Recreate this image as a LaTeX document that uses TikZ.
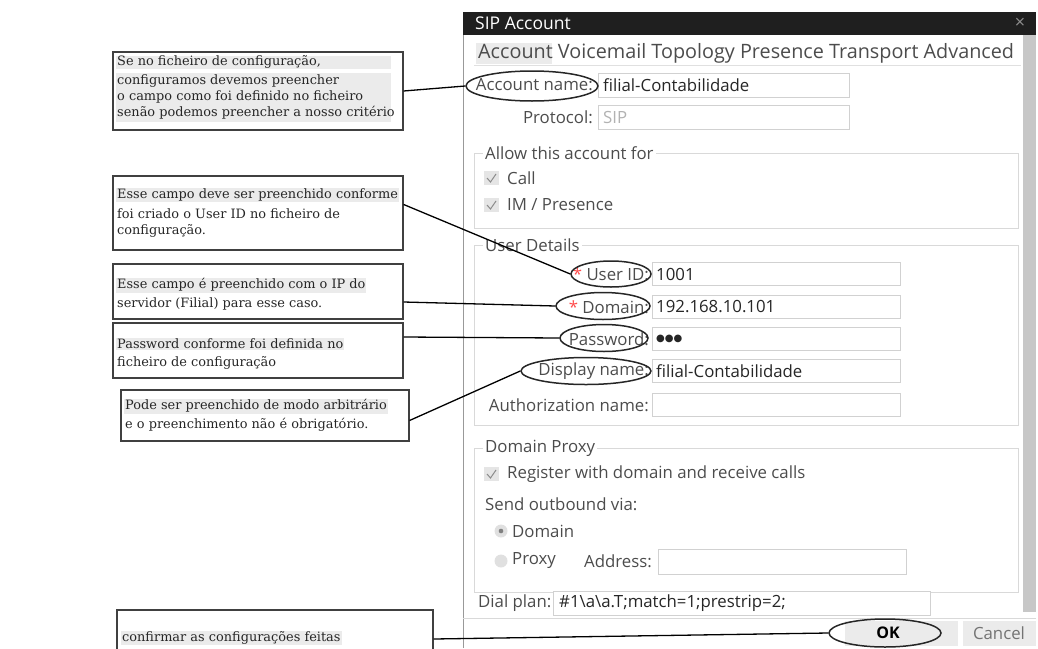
\documentclass[tikz,border=0pt]{standalone}
\usepackage{fontspec}
\usetikzlibrary{shapes.geometric}
\newfontfamily\uifont{Open Sans}
\newfontfamily\notefont{DejaVu Serif}
\newfontfamily\symfont{DejaVu Sans}
\tikzset{
  note/.style={draw=black!75, line width=1.1pt, inner sep=0pt},
  noteline/.style={anchor=west, font=\notefont\fontsize{12.9}{14}\selectfont, text=black!85, inner sep=1pt},
  hilite/.style={fill=black!8},
  ring/.style={ellipse, draw=black!85, line width=1.5pt, inner sep=0pt},
  link/.style={line width=1.3pt},
  uitext/.style={font=\uifont\fontsize{16.8}{18}\selectfont, text=black!70, inner sep=0pt},
  field/.style={draw=black!18, fill=white},
  group/.style={draw=black!15},
  tick/.style={black!45, line width=1pt},
}
\begin{document}
\begin{tikzpicture}[x=1pt,y=-1pt]
\useasboundingbox (0,0) rectangle (1038,648);
\clip (0,0) rectangle (1038,648);

% dialog window
\fill[black!88] (463,12) rectangle (1036,35);
\node[uitext, anchor=west, text=white, font=\uifont\fontsize{17.5}{18}\selectfont] (title) at (475,23.5) {SIP Account};
\node[uitext, text=black!45, font=\uifont\fontsize{18}{18}\selectfont] (close) at (1020,23.5) {×};
\draw[black!40] (463,35) -- (463,648);
\fill[black!22] (1023,35) rectangle (1036,612);

% tabs
\fill[black!8] (476,43) rectangle (552,64);
\node[uitext, anchor=west, font=\uifont\fontsize{19.8}{20}\selectfont] (tabs) at (478,53.5) {Account Voicemail Topology Presence Transport Advanced};
\draw[black!12] (474,65) -- (1021,65);

% account
\node[uitext, anchor=east] (accname) at (593,85) {Account name:};
\draw[field] (598,73) rectangle (849,97);
\node[uitext, anchor=west, text=black!85] (accval) at (603,85) {filial-Contabilidade};
\node[uitext, anchor=east] (proto) at (593,117) {Protocol:};
\draw[field] (598,105) rectangle (849,129);
\node[uitext, anchor=west, text=black!30] (protoval) at (603,117) {SIP};

% allow this account for
\draw[group] (474,153) rectangle (1018,228);
\node[uitext, fill=white, inner xsep=2pt, anchor=west] (allow) at (483,153) {Allow this account for};
\fill[black!10] (484,171) rectangle (499,185);
\draw[tick] (487,178) -- (490.5,182) -- (496,174);
\node[uitext, anchor=west] (call) at (507,178) {Call};
\fill[black!10] (484,198) rectangle (499,212);
\draw[tick] (487,205) -- (490.5,209) -- (496,201);
\node[uitext, anchor=west] (impres) at (507,205) {IM / Presence};

% user details
\draw[group] (474,245) rectangle (1018,425);
\node[uitext, fill=white, inner xsep=2pt, anchor=west] (userdet) at (483,245) {User Details};
\foreach \y in {274,307,339,371,405}
  \draw[field] (652,\y-11.5) rectangle (900,\y+11.5);
\node[uitext, anchor=east] (uid) at (649,274) {\textcolor{red!70}{*} User ID:};
\node[uitext, anchor=west, text=black!85] (uidval) at (656,274) {1001};
\node[uitext, anchor=east] (dom) at (649,307) {\textcolor{red!70}{*} Domain:};
\node[uitext, anchor=west, text=black!85] (domval) at (656,307) {192.168.10.101};
\node[uitext, anchor=east] (pw) at (649,339) {Password:};
\node[uitext, anchor=west, text=black!85, font=\symfont\fontsize{10}{10}\selectfont] (pwval) at (656,339) {●●●};
\node[uitext, anchor=east] (disp) at (649,371) {Display name:};
\node[uitext, anchor=west, text=black!85] (dispval) at (656,371) {filial-Contabilidade};
\node[uitext, anchor=east] (auth) at (649,405) {Authorization name:};

% domain proxy
\draw[group] (474,448) rectangle (1018,592);
\node[uitext, fill=white, inner xsep=2pt, anchor=west] (proxy) at (483,448) {Domain Proxy};
\fill[black!10] (484,467) rectangle (499,481);
\draw[tick] (487,474) -- (490.5,478) -- (496,470);
\node[uitext, anchor=west] (reg) at (507,474) {Register with domain and receive calls};
\node[uitext, anchor=west] (send) at (485,504) {Send outbound via:};
\fill[black!12] (501,531) circle (6.5);
\fill[black!50] (501,531) circle (2.3);
\node[uitext, anchor=west] (viadom) at (512,531) {Domain};
\fill[black!12] (501,561) circle (6.5);
\node[uitext, anchor=west] (viaprx) at (512,561) {Proxy};
\node[uitext, anchor=east] (addr) at (652,561) {Address:};
\draw[field] (658,549) rectangle (906,574);

% dial plan and buttons
\node[uitext, anchor=west] (dial) at (478,603) {Dial plan:};
\draw[field] (553,591) rectangle (930,615);
\node[uitext, anchor=west, text=black!85] (dialval) at (559,603) {\#1\textbackslash a\textbackslash a.T;match=1;prestrip=2;};
\draw[black!15] (463,618) -- (1036,618);
\fill[black!8] (845,621) rectangle (958,646);
\fill[black!8] (963,621) rectangle (1036,646);
\node[uitext, text=black, font=\uifont\bfseries\fontsize{16}{16}\selectfont] (ok) at (888,633) {OK};
\node[uitext, text=black!55] (cancel) at (999,633) {Cancel};

% rings
\node[ring, minimum width=132, minimum height=30] (accring) at (532,86) {};
\node[ring, minimum width=80, minimum height=26] (uidring) at (611,274) {};
\node[ring, minimum width=94, minimum height=27] (domring) at (603,306) {};
\node[ring, minimum width=88, minimum height=27] (pwring) at (604,338) {};
\node[ring, minimum width=130, minimum height=27] (dispring) at (586,371) {};
\node[ring, minimum width=112, minimum height=28] (okring) at (885,633) {};

% notes
\node[note, minimum width=290, minimum height=78] (note1) at (258,91) {};
\fill[black!8] (116,56) rectangle (391,69);
\fill[black!8] (116,73) rectangle (391,122);
\foreach \y/\t [count=\i] in {62/{Se no ficheiro de configuração,},
    81/{configuramos devemos preencher},
    97/{o campo como foi definido no ficheiro},
    113/{senão podemos preencher a nosso critério}}
  \node[noteline] (n1-\i) at (116,\y) {\t};

\node[note, minimum width=290, minimum height=74] (note2) at (258,213) {};
\node[noteline, hilite] (n2-1) at (116,195) {Esse campo deve ser preenchido conforme};
\node[noteline] (n2-2) at (116,214) {foi criado o User ID no ficheiro de};
\node[noteline] (n2-3) at (116,231) {configuração.};

\node[note, minimum width=290, minimum height=55] (note3) at (258,291.5) {};
\node[noteline, hilite] (n3-1) at (116,285) {Esse campo é preenchido com o IP do};
\node[noteline] (n3-2) at (116,304) {servidor (Filial) para esse caso.};

\node[note, minimum width=290, minimum height=55] (note4) at (258,350.5) {};
\node[noteline, hilite] (n4-1) at (116,344) {Password conforme foi definida no\ };
\node[noteline] (n4-2) at (116,363) {ficheiro de configuração};

\node[note, minimum width=288, minimum height=51] (note5) at (265,415.5) {};
\node[noteline, hilite] (n5-1) at (124,406) {Pode ser preenchido de modo arbitrário};
\node[noteline] (n5-2) at (124,425) {e o preenchimento não é obrigatório.};

\node[note, minimum width=316, minimum height=58] (note6) at (275,639) {};
\node[noteline, hilite] (n6-1) at (121,638) {confirmar as configurações feitas\ };

% connectors
\draw[link] (note1.east) -- (accring.west);
\draw[link] ([yshift=-29pt]note2.north east) -- (uidring.west);
\draw[link] ([yshift=-10.5pt]note3.east) -- (domring.west);
\draw[link] ([yshift=13.5pt]note4.east) -- (pwring.west);
\draw[link] ([yshift=-5pt]note5.east) -- (dispring.west);
\draw[link] (note6.east) -- (okring.west);
\end{tikzpicture}
\end{document}
